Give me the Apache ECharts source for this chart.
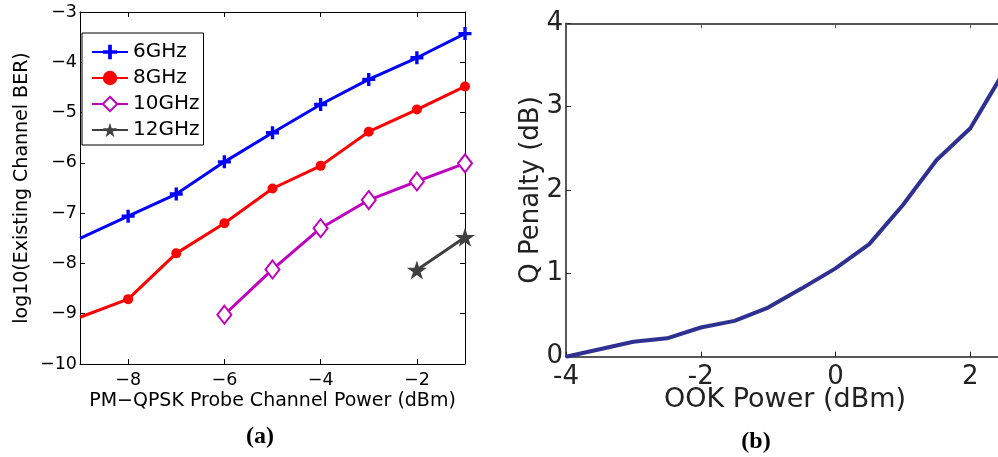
<!DOCTYPE html>
<html><head><meta charset="utf-8">
<script src="https://cdn.jsdelivr.net/npm/echarts@6/dist/echarts.min.js"></script>
<style>html,body{margin:0;padding:0;background:#fff}#c{width:998px;height:457px}</style>
</head><body><div id="c"></div>
<script>
// Panel (a) data
const powerA = [-9, -8, -7, -6, -5, -4, -3, -2, -1];
const ber6 = [-7.50, -7.06, -6.62, -5.98, -5.40, -4.84, -4.34, -3.91, -3.43];
const ber8 = [-9.07, -8.71, -7.80, -7.20, -6.51, -6.06, -5.38, -4.94, -4.48];
const power10 = [-6, -5, -4, -3, -2, -1];
const ber10 = [-9.02, -8.12, -7.30, -6.74, -6.37, -6.01];
const power12 = [-2, -1];
const ber12 = [-8.13, -7.48];
const seriesNamesA = ['6GHz', '8GHz', '10GHz', '12GHz'];
const xTicksA = [-8, -6, -4, -2];
// Panel (b) data
const ookPower = [-4, -3.5, -3, -2.5, -2, -1.5, -1, -0.5, 0, 0.5, 1, 1.5, 2, 2.5];
const qPenalty = [0, 0.09, 0.18, 0.22, 0.35, 0.43, 0.59, 0.82, 1.06, 1.35, 1.82, 2.36, 2.74, 3.42];
const xTicksB = [-4, -2, 0, 2];

const FONT = 'DejaVu Sans';
const minus = v => String(v).replace('-', '\u2212');
const pair = (xs, ys, hideFirstOutside) => xs.map((x, i) => {
  const item = { value: [x, ys[i]] };
  if (hideFirstOutside && x === -9) item.symbol = 'none';
  return item;
});

const plusPath = 'path://M3.7,0H6.3V3.7H10V6.3H6.3V10H3.7V6.3H0V3.7H3.7Z';
const starPath = 'path://M50,0L61.2,34.5L97.6,34.5L68.2,55.9L79.4,90.5L50,69.1L20.6,90.5L31.8,55.9L2.4,34.5L38.8,34.5Z';

const axA = { onZero: false, lineStyle: { color: '#000', width: 1 } };
const tickA = { inside: true, length: 5, lineStyle: { color: '#000', width: 1 } };

const chart = echarts.init(document.getElementById('c'), null, { renderer: 'canvas' });
chart.setOption({
  animation: false,
  backgroundColor: '#fff',
  grid: [
    { left: 80, top: 12, width: 385, height: 352, containLabel: false, outerBoundsMode: 'none' },
    { left: 566, top: 23.3, width: 438, height: 333.4, containLabel: false, outerBoundsMode: 'none' }
  ],
  legend: {
    data: seriesNamesA,
    orient: 'vertical',
    left: 82, top: 33,
    padding: [9, 4, 5, 9],
    itemGap: 6,
    itemWidth: 36, itemHeight: 18,
    backgroundColor: '#fff',
    borderColor: '#000', borderWidth: 1,
    textStyle: { fontFamily: FONT, fontSize: 20, color: '#000' }
  },
  xAxis: [
    { gridIndex: 0, type: 'value', min: -9, max: -1, position: 'bottom',
      name: 'PM\u2212QPSK Probe Channel Power (dBm)', nameLocation: 'middle', nameGap: 28, nameMoveOverlap: false,
      nameTextStyle: { fontFamily: FONT, fontSize: 19, color: '#000' },
      axisLine: axA, axisTick: Object.assign({ customValues: xTicksA }, tickA),
      axisLabel: { customValues: xTicksA, formatter: minus, fontFamily: FONT, fontSize: 17.5, color: '#000', margin: 7 },
      splitLine: { show: false } },
    { gridIndex: 0, type: 'value', min: -9, max: -1, position: 'top',
      axisLine: axA, axisTick: Object.assign({ customValues: xTicksA }, tickA),
      axisLabel: { show: false }, splitLine: { show: false } },
    { gridIndex: 1, type: 'value', min: -4, max: 2.5, position: 'bottom',
      name: 'OOK Power (dBm)', nameLocation: 'middle', nameGap: 30, nameMoveOverlap: false,
      nameTextStyle: { fontFamily: FONT, fontSize: 27, color: '#222' },
      axisLine: { onZero: false, lineStyle: { color: '#222', width: 1.5 } },
      axisTick: { customValues: xTicksB, inside: true, length: 5, lineStyle: { color: '#222' } },
      axisLabel: { customValues: xTicksB, fontFamily: FONT, fontSize: 26, color: '#222', margin: 8 },
      splitLine: { show: false } },
    { gridIndex: 1, type: 'value', min: -4, max: 2.5, position: 'top',
      axisLine: { onZero: false, lineStyle: { color: '#555', width: 2 } },
      axisTick: { customValues: xTicksB, inside: true, length: 5, lineStyle: { color: '#555' } },
      axisLabel: { show: false }, splitLine: { show: false } }
  ],
  yAxis: [
    { gridIndex: 0, type: 'value', min: -10, max: -3, interval: 1, position: 'left',
      name: 'log10(Existing Channel BER)', nameLocation: 'middle', nameGap: 48, nameMoveOverlap: false,
      nameTextStyle: { fontFamily: FONT, fontSize: 19, color: '#000' },
      axisLine: axA, axisTick: tickA,
      axisLabel: { formatter: minus, fontFamily: FONT, fontSize: 17.5, color: '#000', margin: 3 },
      splitLine: { show: false } },
    { gridIndex: 0, type: 'value', min: -10, max: -3, interval: 1, position: 'right',
      axisLine: axA, axisTick: tickA, axisLabel: { show: false }, splitLine: { show: false } },
    { gridIndex: 1, type: 'value', min: 0, max: 4, interval: 1, position: 'left',
      name: 'Q Penalty (dB)', nameLocation: 'middle', nameGap: 22, nameMoveOverlap: false,
      nameTextStyle: { fontFamily: FONT, fontSize: 26, color: '#222' },
      axisLine: { onZero: false, lineStyle: { color: '#222', width: 1.5 } },
      axisTick: { inside: true, length: 5, lineStyle: { color: '#222' } },
      axisLabel: { fontFamily: FONT, fontSize: 26, color: '#222', margin: 3 },
      splitLine: { show: false } }
  ],
  series: [
    { name: seriesNamesA[0], type: 'line', xAxisIndex: 0, yAxisIndex: 0,
      data: pair(powerA, ber6, true), color: '#0000ff',
      lineStyle: { width: 3, color: '#0000ff' },
      symbol: plusPath, symbolSize: 13, itemStyle: { color: '#0000ff' } },
    { name: seriesNamesA[1], type: 'line', xAxisIndex: 0, yAxisIndex: 0,
      data: pair(powerA, ber8, true), color: '#ff0000',
      lineStyle: { width: 3, color: '#ff0000' },
      symbol: 'circle', symbolSize: 10, itemStyle: { color: '#ff0000' } },
    { name: seriesNamesA[2], type: 'line', xAxisIndex: 0, yAxisIndex: 0,
      data: pair(power10, ber10, false), color: '#c000c0',
      lineStyle: { width: 3, color: '#c000c0' },
      symbol: 'emptyDiamond', symbolSize: [14, 18],
      itemStyle: { color: '#c000c0', borderColor: '#c000c0', borderWidth: 2.5 } },
    { name: seriesNamesA[3], type: 'line', xAxisIndex: 0, yAxisIndex: 0,
      data: pair(power12, ber12, false), color: '#404040',
      lineStyle: { width: 3, color: '#404040' },
      symbol: starPath, symbolSize: 20, symbolKeepAspect: true, itemStyle: { color: '#404040' } },
    { name: 'Q Penalty', type: 'line', xAxisIndex: 2, yAxisIndex: 2,
      data: ookPower.map((x, i) => [x, qPenalty[i]]),
      showSymbol: false, symbol: 'none', clip: true,
      lineStyle: { width: 4, color: '#2e3192' } }
  ],
  graphic: [
    { type: 'text', x: 260, y: 437, style: { text: '(a)', fontFamily: 'Liberation Serif', fontWeight: 'bold', fontSize: 24, fill: '#000', textAlign: 'center', textVerticalAlign: 'middle' } },
    { type: 'text', x: 756, y: 442, style: { text: '(b)', fontFamily: 'Liberation Serif', fontWeight: 'bold', fontSize: 24, fill: '#000', textAlign: 'center', textVerticalAlign: 'middle' } }
  ]
});
</script></body></html>
